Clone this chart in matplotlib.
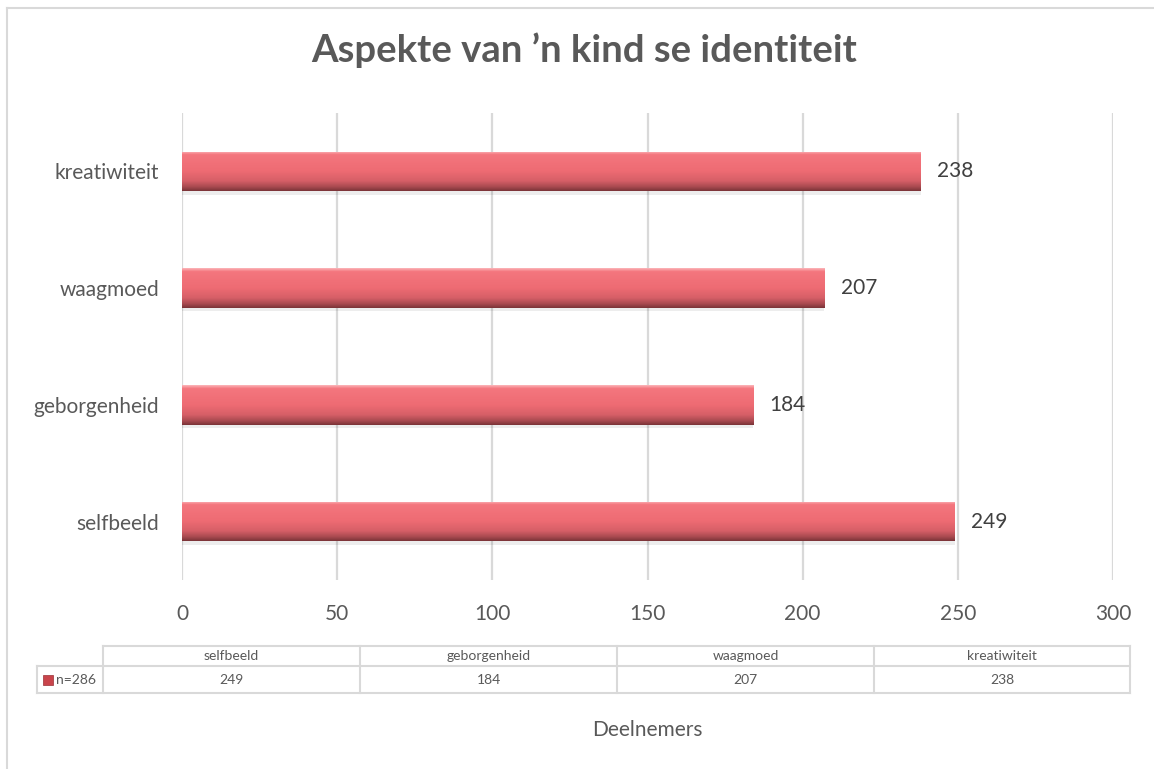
import matplotlib
matplotlib.use("Agg")
import matplotlib.pyplot as plt
import numpy as np
from matplotlib.colors import LinearSegmentedColormap
from matplotlib.lines import Line2D
from matplotlib.patches import Rectangle

categories = ["selfbeeld", "geborgenheid", "waagmoed", "kreatiwiteit"]
values = [249, 184, 207, 238]
series_name = "n=286"
title = "Aspekte van \u2019n kind se identiteit"
x_title = "Deelnemers"
x_ticks = [0, 50, 100, 150, 200, 250, 300]

W, H = 1154, 769
FONT = "Lato"
GREY = "#595959"
LINE = "#d9d9d9"

plt.rcParams["font.family"] = [FONT, "DejaVu Sans"]


def fx(x):
    return x / W


def fy(y):
    return 1 - y / H


fig = plt.figure(figsize=(W / 100, H / 100), dpi=100)

# chart border (left and top visible, rest off-canvas)
fig.add_artist(Line2D([fx(7), fx(7)], [fy(8), 0], color=LINE, lw=1.5))
fig.add_artist(Line2D([fx(7), 1], [fy(8), fy(8)], color=LINE, lw=1.5))

ax = fig.add_axes([fx(182), fy(580), (1113 - 182) / W, (580 - 113) / H])
y = np.arange(len(categories))
bar_h = 0.34

cmap = LinearSegmentedColormap.from_list(
    "bar", [(0.0, "#fbb3b7"), (0.08, "#f4767e"), (0.5, "#ee6b73"),
            (0.75, "#d65f67"), (0.9, "#a94a50"), (1.0, "#7c3438")])
grad = np.linspace(0, 1, 64).reshape(-1, 1)

# soft shadow under bars
ax.barh(y - 0.03, values, height=bar_h, color="#000000", alpha=0.07,
        zorder=2, lw=0)
bars = ax.barh(y, values, height=bar_h, color="#ee6b73", zorder=3, lw=0)
for b in bars:
    x0, y0 = b.get_x(), b.get_y()
    im = ax.imshow(grad, cmap=cmap, aspect="auto", origin="upper",
                   extent=[x0, x0 + b.get_width(), y0, y0 + b.get_height()],
                   zorder=4, interpolation="bilinear")
    im.set_clip_path(b)

for yi, v in zip(y, values):
    ax.annotate(f"{v}", (v, yi), textcoords="offset points", xytext=(12, 0),
                ha="left", va="center", fontsize=15, color="#404040")

ax.set_xlim(0, 300)
ax.set_ylim(-0.5, len(categories) - 0.5)
ax.set_xticks(x_ticks)
ax.set_yticks(y)
ax.set_yticklabels(categories)
ax.tick_params(axis="both", length=0, labelsize=15, labelcolor=GREY)
ax.tick_params(axis="y", pad=16.5)
ax.tick_params(axis="x", pad=17)
ax.grid(axis="x", color=LINE, lw=1.6, zorder=0)
ax.set_axisbelow(True)
for s in ax.spines.values():
    s.set_visible(False)

fig.text(fx(584), fy(50), title, ha="center", va="center", fontsize=27.5,
         fontweight="bold", color=GREY)

# data table
cols = [103, 360, 617, 874, 1130]
r0, r1, r2 = 646, 666, 693
lw = 1.5
fig.add_artist(Line2D([fx(103), fx(1130)], [fy(r0), fy(r0)], color=LINE, lw=lw))
fig.add_artist(Line2D([fx(37), fx(1130)], [fy(r1), fy(r1)], color=LINE, lw=lw))
fig.add_artist(Line2D([fx(37), fx(1130)], [fy(r2), fy(r2)], color=LINE, lw=lw))
fig.add_artist(Line2D([fx(37), fx(37)], [fy(r1), fy(r2)], color=LINE, lw=lw))
for c in cols:
    fig.add_artist(Line2D([fx(c), fx(c)], [fy(r0), fy(r2)], color=LINE, lw=lw))
for i, (cat, v) in enumerate(zip(categories, values)):
    cx = (cols[i] + cols[i + 1]) / 2
    fig.text(fx(cx), fy((r0 + r1) / 2), cat, ha="center", va="center",
             fontsize=10, color=GREY)
    fig.text(fx(cx), fy((r1 + r2) / 2), f"{v}", ha="center", va="center",
             fontsize=10, color=GREY)
fig.add_artist(Rectangle((fx(43), fy(685)), 10 / W, 10 / H,
                         facecolor="#c9444b", edgecolor="#9a3036", lw=0.5))
fig.text(fx(56), fy((r1 + r2) / 2), series_name, ha="left", va="center",
         fontsize=10, color=GREY)

fig.text(fx(647), fy(730), x_title, ha="center", va="center", fontsize=15,
         color=GREY)

fig.savefig("out.png", dpi=100)
